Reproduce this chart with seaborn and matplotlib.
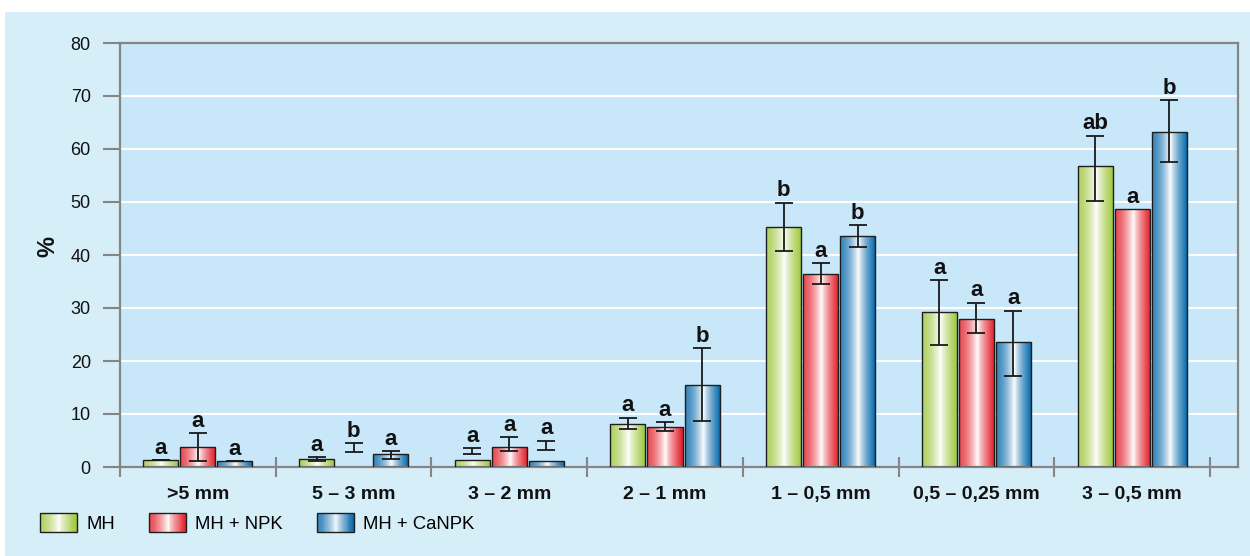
import numpy as np
import pandas as pd
import matplotlib
matplotlib.use("Agg")
import matplotlib.pyplot as plt
import seaborn as sns
from matplotlib.patches import Rectangle, Patch
from matplotlib.legend_handler import HandlerBase
from matplotlib.colors import to_rgb

# ---------------- data ----------------
categories = [">5 mm", "5 – 3 mm", "3 – 2 mm", "2 – 1 mm", "1 – 0,5 mm", "0,5 – 0,25 mm", "3 – 0,5 mm"]
treatments = ["MH", "MH + NPK", "MH + CaNPK"]

mh_values = [1.3, 1.45, 1.3, 8.2, 45.3, 29.2, 56.7]
mh_err_low = [1.3, 1.1, 2.45, 7.2, 40.8, 23.1, 50.2]
mh_err_high = [1.3, 1.8, 3.5, 9.3, 49.9, 35.2, 62.5]
mh_letters = ["a", "a", "a", "a", "b", "a", "ab"]

npk_values = [3.7, 3.7, 3.7, 7.6, 36.4, 28.0, 48.7]
npk_err_low = [1.1, 2.9, 3.1, 6.8, 34.5, 25.3, np.nan]
npk_err_high = [6.35, 4.5, 5.6, 8.5, 38.5, 31.0, np.nan]
npk_letters = ["a", "b", "a", "a", "a", "a", "a"]
npk_bar_hidden = [False, True, False, False, False, False, False]

ca_values = [1.1, 2.45, 1.1, 15.4, 43.5, 23.5, 63.3]
ca_err_low = [1.1, 1.6, 3.3, 8.7, 41.6, 17.2, 57.5]
ca_err_high = [1.1, 3.0, 5.0, 22.5, 45.7, 29.5, 69.2]
ca_letters = ["a", "a", "a", "b", "b", "a", "b"]
ca_bar_hidden = [False] * 7
mh_bar_hidden = [False] * 7

y_ticks = [0, 10, 20, 30, 40, 50, 60, 70, 80]
y_label = "%"

bar_colors = ["#9dc63a", "#e31d28", "#0066aa"]

values = [mh_values, npk_values, ca_values]
err_low = [mh_err_low, npk_err_low, ca_err_low]
err_high = [mh_err_high, npk_err_high, ca_err_high]
letters = [mh_letters, npk_letters, ca_letters]
hidden = [mh_bar_hidden, npk_bar_hidden, ca_bar_hidden]

df = pd.DataFrame({
    "size": categories * 3,
    "treatment": sum([[t] * len(categories) for t in treatments], []),
    "value": mh_values + npk_values + ca_values,
})

# ---------------- style ----------------
plt.rcParams["font.family"] = ["Liberation Sans", "DejaVu Sans"]
AX_GREY = "#858585"

fig = plt.figure(figsize=(12.5, 5.56), dpi=100)
fig.patch.set_facecolor("white")
fig.patches.append(Rectangle((5 / 1250, 0), 1, (556 - 12) / 556, transform=fig.transFigure,
                             facecolor="#d6eef8", edgecolor="none", zorder=-10))

ax = fig.add_axes([120 / 1250, (556 - 467) / 556, (1238 - 120) / 1250, (467 - 43) / 556])
ax.set_facecolor("#c8e7f8")


def grad_color(dark, t):
    d = np.array(to_rgb(dark))
    t = np.asarray(t, dtype=float)
    a = np.clip(t / 0.52, 0, 1)
    b = np.clip((t - 0.52) / 0.48, 0, 1)
    w = np.where(t < 0.52, 0.22 + 0.78 * a ** 1.6, 1 - b ** 0.75)
    w = np.clip(w, 0, 1)
    return d[None, :] * (1 - w[:, None]) + np.ones(3)[None, :] * w[:, None]


sns.barplot(data=df, x="size", y="value", hue="treatment", order=categories,
            hue_order=treatments, palette=bar_colors, errorbar=None,
            width=0.714, gap=0.054, legend=False, ax=ax)

bar_containers = list(ax.containers)

xlim = (-0.5, -0.5 + (1238 - 120) / ((1210 - 120) / 7))
ylim = (0, 80)

t_arr = np.linspace(0, 1, 64)
for h, cont in enumerate(bar_containers):
    img = grad_color(bar_colors[h], t_arr)[None, :, :]
    for i, p in enumerate(cont.patches):
        if hidden[h][i]:
            p.set_visible(False)
            continue
        x0, w, ht = p.get_x(), p.get_width(), p.get_height()
        p.set_facecolor("none")
        p.set_edgecolor("#1e1e1e")
        p.set_linewidth(1.0)
        p.set_zorder(3)
        im = ax.imshow(img, extent=[x0, x0 + w, 0, ht], aspect="auto", zorder=2,
                       interpolation="bilinear")
        im.set_clip_path(p)

# error bars and letters
for h, cont in enumerate(bar_containers):
    for i, p in enumerate(cont.patches):
        xc = p.get_x() + p.get_width() / 2
        lo, hi = err_low[h][i], err_high[h][i]
        top = values[h][i]
        if not np.isnan(lo):
            mid = (lo + hi) / 2
            ax.errorbar(xc, mid, yerr=(hi - lo) / 2, fmt="none", ecolor="#1a1a1a",
                        elinewidth=1.3, capsize=6.5, capthick=1.3, zorder=5)
            top = max(top, hi)
        ax.annotate(letters[h][i], (xc, top), xytext=(0, 4.5), textcoords="offset points",
                    ha="center", va="baseline", fontsize=16, fontweight="bold",
                    color="#111111", zorder=6)

ax.set_xlim(*xlim)
ax.set_ylim(*ylim)

# grid
ax.set_axisbelow(True)
ax.set_yticks(y_ticks)
ax.yaxis.grid(True, color="white", linewidth=1.5)
ax.xaxis.grid(False)

for s in ax.spines.values():
    s.set_color(AX_GREY)
    s.set_linewidth(1.6)

ax.tick_params(axis="y", direction="out", length=12, width=1.5, color=AX_GREY,
               labelsize=13, pad=9, labelcolor="#111111")
ax.set_xticks(range(len(categories)))
ax.set_xticklabels(categories, fontsize=14, fontweight="bold", color="#111111")
ax.tick_params(axis="x", which="major", length=0, pad=14)
ax.set_xticks(np.arange(-0.5, len(categories) + 0.5, 1), minor=True)
ax.tick_params(axis="x", which="minor", direction="inout", length=15, width=1.5, color=AX_GREY)

ax.set_xlabel("")
ax.set_ylabel(y_label, fontsize=17, fontweight="bold", color="#111111")
ax.yaxis.set_label_coords(-0.054, 0.52)


# legend with gradient patches
class GradHandler(HandlerBase):
    def __init__(self, dark):
        super().__init__()
        self.dark = dark

    def create_artists(self, legend, orig_handle, xdescent, ydescent, width, height, fontsize, trans):
        n = 40
        cols = grad_color(self.dark, (np.arange(n) + 0.5) / n)
        arts = []
        for k in range(n):
            arts.append(Rectangle((-xdescent + width * k / n, -ydescent), width / n * 1.05, height,
                                  facecolor=cols[k], edgecolor="none", transform=trans))
        arts.append(Rectangle((-xdescent, -ydescent), width, height, facecolor="none",
                              edgecolor="#1e1e1e", linewidth=1.0, transform=trans))
        return arts


handles = [Patch(label=t) for t in treatments]
hmap = {hd: GradHandler(c) for hd, c in zip(handles, bar_colors)}
fig.legend(handles=handles, handler_map=hmap, loc="center left", ncol=3,
           bbox_to_anchor=(40 / 1250, (556 - 523) / 556), bbox_transform=fig.transFigure,
           frameon=False, fontsize=13.3, handlelength=2.0, handleheight=1.15,
           handletextpad=0.5, columnspacing=1.85, borderpad=0, borderaxespad=0)

fig.savefig("out.png", dpi=100)
